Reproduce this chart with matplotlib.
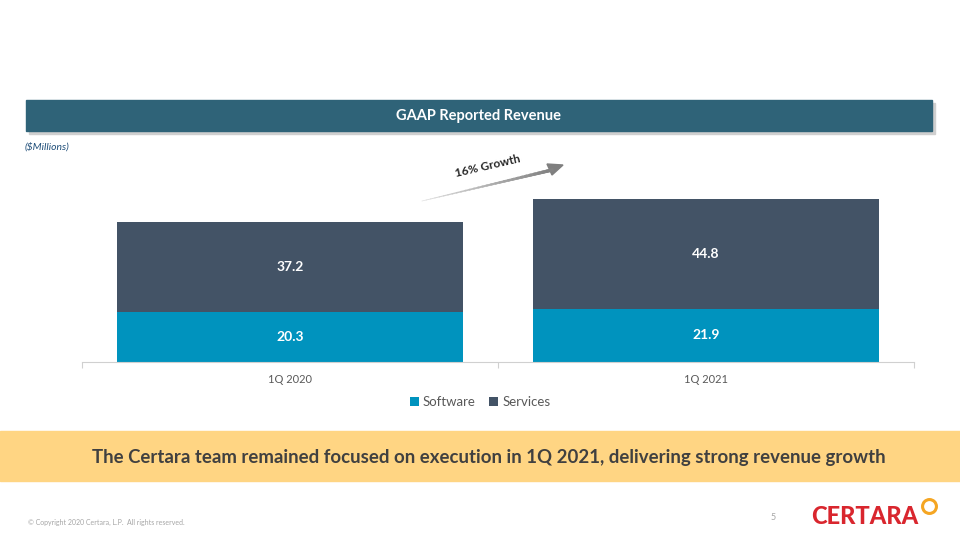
import numpy as np
import matplotlib.pyplot as plt
from matplotlib.patches import Rectangle

plt.rcParams['font.family'] = ['Lato', 'DejaVu Sans']

quarters = ['1Q 2020', '1Q 2021']
software = [20.3, 21.9]
services = [37.2, 44.8]

c_soft = '#0093BE'
c_serv = '#435366'

W, H = 960, 540
fig = plt.figure(figsize=(9.6, 5.4), dpi=100)

def fx(x):
    return x / W

def fy(y):
    return 1 - y / H

# chart area
ax = fig.add_axes([fx(82), fy(362), fx(914) - fx(82), (362 - 194) / H])
x = np.arange(len(quarters))
ax.bar(x, software, width=0.834, color=c_soft, label='Software')
ax.bar(x, services, width=0.834, bottom=software, color=c_serv, label='Services')
for i in range(len(quarters)):
    ax.text(x[i], software[i] / 2, f'{software[i]:.1f}', ha='center', va='center',
            color='white', fontsize=10, fontweight='bold')
    ax.text(x[i], software[i] + services[i] / 2, f'{services[i]:.1f}', ha='center',
            va='center', color='white', fontsize=10, fontweight='bold')
ax.set_xlim(-0.5, 1.5)
ax.set_ylim(0, 68.8)
for s in ['top', 'right', 'left']:
    ax.spines[s].set_visible(False)
ax.spines['bottom'].set_color('#D0D0D0')
ax.set_yticks([])
ax.set_xticks([-0.5, 0.5, 1.5])
ax.set_xticklabels([])
ax.tick_params(axis='x', length=4, color='#D0D0D0')
for i, q in enumerate(quarters):
    ax.text(x[i], -5.0, q, ha='center', va='top', fontsize=8, color='#595959')

fig.legend(loc='center', bbox_to_anchor=(fx(480), fy(402)), ncol=2, frameon=False,
           fontsize=9.5, handlelength=0.7, handleheight=0.7, handletextpad=0.3,
           columnspacing=1.0, labelcolor='#595959')

# title banner with shadow
fig.patches.append(Rectangle((fx(29), fy(134)), fx(906), 31 / H, transform=fig.transFigure,
                             color='#CFCFCF', zorder=0))
fig.patches.append(Rectangle((fx(26), fy(131)), fx(906), 31 / H, transform=fig.transFigure,
                             color='#2F6378', zorder=1))
fig.text(fx(479), fy(116), 'GAAP Reported Revenue', ha='center', va='center',
         color='white', fontsize=10.5, fontweight='bold')
fig.text(fx(25), fy(147), '($Millions)', ha='left', va='center', color='#1F4E79',
         fontsize=7.5, style='italic')

# growth arrow
n = 30
xs = np.linspace(422, 552, n + 1)
ys = np.linspace(201, 170, n + 1)
for k in range(n):
    g = 0.88 - 0.38 * k / n
    fig.add_artist(plt.Line2D([fx(xs[k]), fx(xs[k + 1])], [fy(ys[k]), fy(ys[k + 1])],
                              transform=fig.transFigure, color=(g, g, g),
                              linewidth=0.5 + 2.0 * k / n))
fig.add_artist(plt.Polygon([[fx(563), fy(165)], [fx(547), fy(164)], [fx(552), fy(175)]],
                           closed=True, transform=fig.transFigure, color='#7F7F7F'))
fig.text(fx(488), fy(166), '16% Growth', ha='center', va='center', rotation=13,
         fontsize=8.5, fontweight='bold', color='#262626')

# bottom banner
fig.patches.append(Rectangle((0, fy(481)), 1, 50 / H, transform=fig.transFigure,
                             color='#FFD583', zorder=0))
fig.text(fx(489), fy(457),
         'The Certara team remained focused on execution in 1Q 2021, delivering strong revenue growth',
         ha='center', va='center', fontsize=13.4, fontweight='bold', color='#404040')

# footer
fig.text(fx(28), fy(522), '\u00a9 Copyright 2020 Certara, L.P.  All rights reserved.',
         ha='left', va='center', fontsize=5, color='#A6A6A6')
fig.text(fx(773), fy(518), '5', ha='center', va='center', fontsize=6.5, color='#A6A6A6')
fig.text(fx(811), fy(517), 'CERTARA', ha='left', va='center', fontsize=17,
         fontweight='black', color='#D9262E')
fig.add_artist(plt.Line2D([fx(929)], [fy(506)], transform=fig.transFigure, marker='o',
                          markersize=10, markerfacecolor='none', markeredgecolor='#F5A623',
                          markeredgewidth=2.2))

fig.savefig('out.png', dpi=100)
